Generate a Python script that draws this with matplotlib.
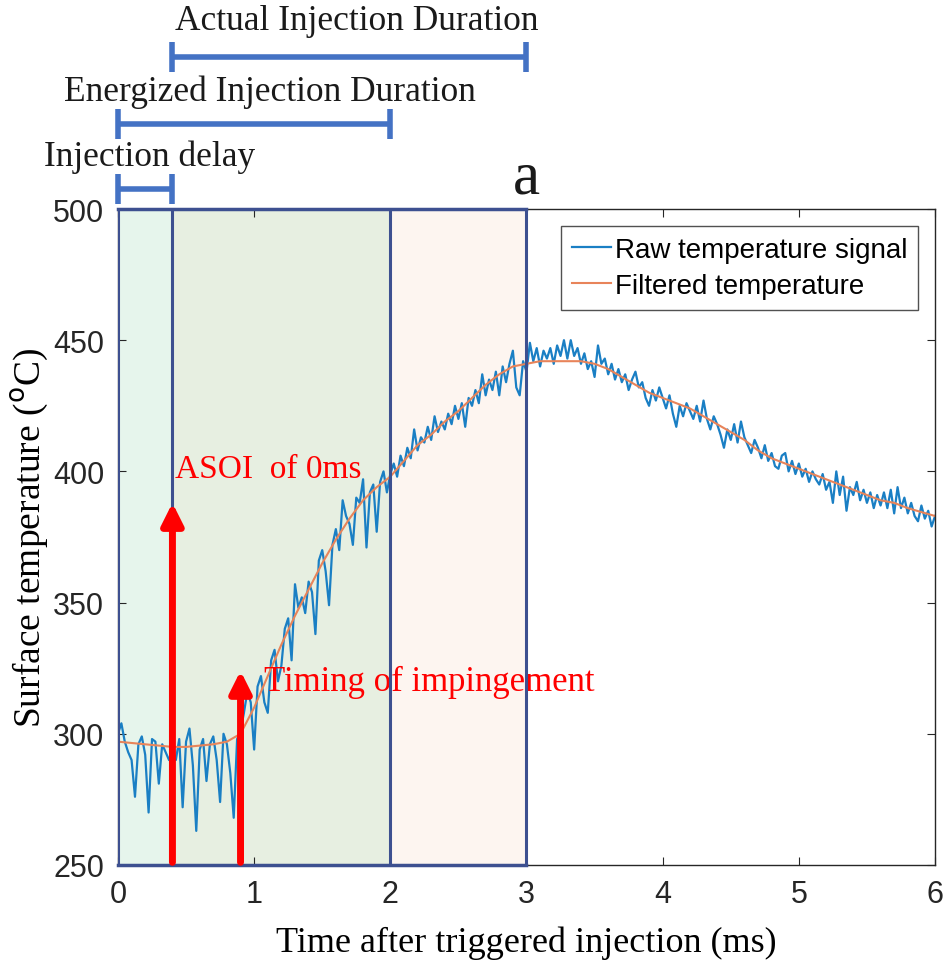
import numpy as np
import matplotlib
matplotlib.use("Agg")
import matplotlib.pyplot as plt

raw_temp = [
    300, 304, 297, 293, 290, 276, 296, 299, 292, 270,
    298, 297, 281, 296, 293, 290, 294, 290, 298, 272,
    297, 302, 288, 263, 294, 298, 282, 296, 299, 290,
    274, 300, 296, 285, 268, 298, 301, 308, 316, 312,
    294, 318, 322, 312, 308, 328, 332, 320, 326, 340,
    344, 328, 357, 348, 352, 346, 358, 354, 338, 366,
    370, 362, 349, 372, 378, 370, 389, 383, 380, 372,
    390, 388, 397, 371, 392, 395, 377, 396, 400, 392,
    399,
    403, 398, 406, 402, 409, 405, 416, 408, 413, 411,
    417, 412, 421, 415, 419, 416, 422, 418, 425, 420,
    426, 417, 428, 425, 431, 426, 437, 429, 435, 431,
    438, 429, 440, 434, 441, 446, 432, 429, 442, 438,
    449, 442, 447, 440, 446, 443, 447, 441, 448, 444,
    450, 443, 450, 444, 447, 441, 445, 439, 442, 436,
    448, 441, 443, 437, 441, 435, 439, 434, 437, 431,
    435, 438, 432, 434, 428, 425, 431, 427, 432, 428,
    424, 429, 422, 417, 425, 421, 426, 423, 420, 425,
    419, 427, 420, 416, 421, 418, 414, 409, 416, 412,
    418, 411, 419, 413, 410, 407, 412, 409, 405, 410,
    404, 407, 402, 401, 406, 407, 400, 404, 399, 403,
    398, 401, 396, 400, 397, 395, 399, 393, 396, 388,
    400, 391, 398, 385, 394, 391, 396, 389, 393, 388,
    392, 386, 391, 387, 392, 386, 393, 384, 394, 386,
    390, 384, 388, 383, 381, 387, 382, 385, 379, 383,
]
raw_time = np.linspace(0, 6, len(raw_temp))

# filtered curve, every 0.1 ms
filt_temp = [
    297, 296.5, 296, 295.5, 295, 295, 295.5, 296, 297, 300,
    310, 322, 334, 345, 355, 365, 374, 382, 389, 394,
    398, 404, 410, 414, 419, 423, 428, 433, 437, 440,
    441, 442, 442, 442, 442, 441, 439, 436, 433, 430,
    428, 426, 424, 421, 418, 415, 412, 408, 405, 403,
    401, 399, 397, 395, 393, 391, 389, 388, 386, 384.5,
    383,
]
filt_time = np.linspace(0, 6, len(filt_temp))

# phases (ms)
t_delay = 0.4
t_energized = 2.0
t_actual_end = 3.0
t_impinge = 0.9
asoi_top = 388
impinge_top = 324

fig = plt.figure(figsize=(9.46, 9.62), dpi=100)
ax = fig.add_axes([0.1247, 0.0998, 0.8637, 0.6819])

ax.axvspan(0, t_delay, color='#e6f5ec', lw=0)
ax.axvspan(t_delay, t_energized, color='#e7efe1', lw=0)
ax.axvspan(t_energized, t_actual_end, color='#fdf5f0', lw=0)

ax.plot(raw_time, raw_temp, color='#1a7fc4', lw=1.6, label='Raw temperature signal')
ax.plot(filt_time, filt_temp, color='#e8845a', lw=1.5, label='Filtered temperature')

# phase outlines
box_c = '#3d5090'
for xv in [0, t_delay, t_energized, t_actual_end]:
    ax.plot([xv, xv], [250, 500], color=box_c, lw=2.2, zorder=4)
ax.plot([0, t_actual_end], [500, 500], color=box_c, lw=2.5, zorder=4, clip_on=False)
ax.plot([0, t_actual_end], [250, 250], color=box_c, lw=2.5, zorder=4, clip_on=False)

# red arrows
for xa, ytop in [(t_delay, asoi_top), (t_impinge, impinge_top)]:
    ax.annotate('', xy=(xa, ytop), xytext=(xa, 251),
                arrowprops=dict(arrowstyle='-|>', color='#ff0000', lw=5,
                                mutation_scale=32, shrinkA=0, shrinkB=0),
                zorder=5)
ax.text(0.42, 401, 'ASOI  of 0ms', color='#ff0000', fontsize=24,
        family='Liberation Serif', va='center', ha='left')
ax.text(1.07, 320, 'Timing of impingement', color='#ff0000', fontsize=25,
        family='Liberation Serif', va='center', ha='left')

# duration bars above the plot
bar_c = '#4472c4'
bars = [(t_delay, t_actual_end, 558, 'Actual Injection Duration', 1.755, 572),
        (0, t_energized, 532.5, 'Energized Injection Duration', 1.116, 545),
        (0, t_delay, 507.5, 'Injection delay', 0.235, 520)]
for x0, x1, yb, lab, xl, yl in bars:
    ax.plot([x0, x1], [yb, yb], color=bar_c, lw=4, marker='|', ms=22, mew=4,
            clip_on=False, solid_capstyle='butt')
    ax.text(xl, yl, lab, fontsize=25.5, family='Liberation Serif',
            ha='center', va='center', color='#1a1a1a', clip_on=False)
ax.text(3.0, 512, 'a', fontsize=44, family='Liberation Serif',
        ha='center', va='center', color='#1a1a1a', clip_on=False)

ax.set_xlim(0, 6)
ax.set_ylim(250, 500)
ax.set_xticks(range(0, 7))
ax.set_yticks(range(250, 501, 50))
ax.tick_params(direction='in', top=True, right=True, labelsize=22, length=6,
               color='#262626', labelcolor='#262626', pad=10)
for lbl in ax.get_xticklabels() + ax.get_yticklabels():
    lbl.set_family('Liberation Sans')
for sp in ax.spines.values():
    sp.set_color('#262626')
    sp.set_linewidth(1.0)

ax.set_xlabel('Time after triggered injection (ms)', fontsize=26,
              family='Liberation Serif', labelpad=12)
ax.set_ylabel('Surface temperature ($^{\\mathrm{o}}$C)', fontsize=27,
              family='Liberation Serif', labelpad=2)

leg = ax.legend(loc='upper right', prop={'family': 'Liberation Sans', 'size': 20},
                frameon=True, fancybox=False, edgecolor='#262626',
                handlelength=1.4, handletextpad=0.15, borderpad=0.4, labelspacing=0.35,
                borderaxespad=0.6)
leg.get_frame().set_linewidth(1.0)

fig.savefig('out.png', dpi=100)
